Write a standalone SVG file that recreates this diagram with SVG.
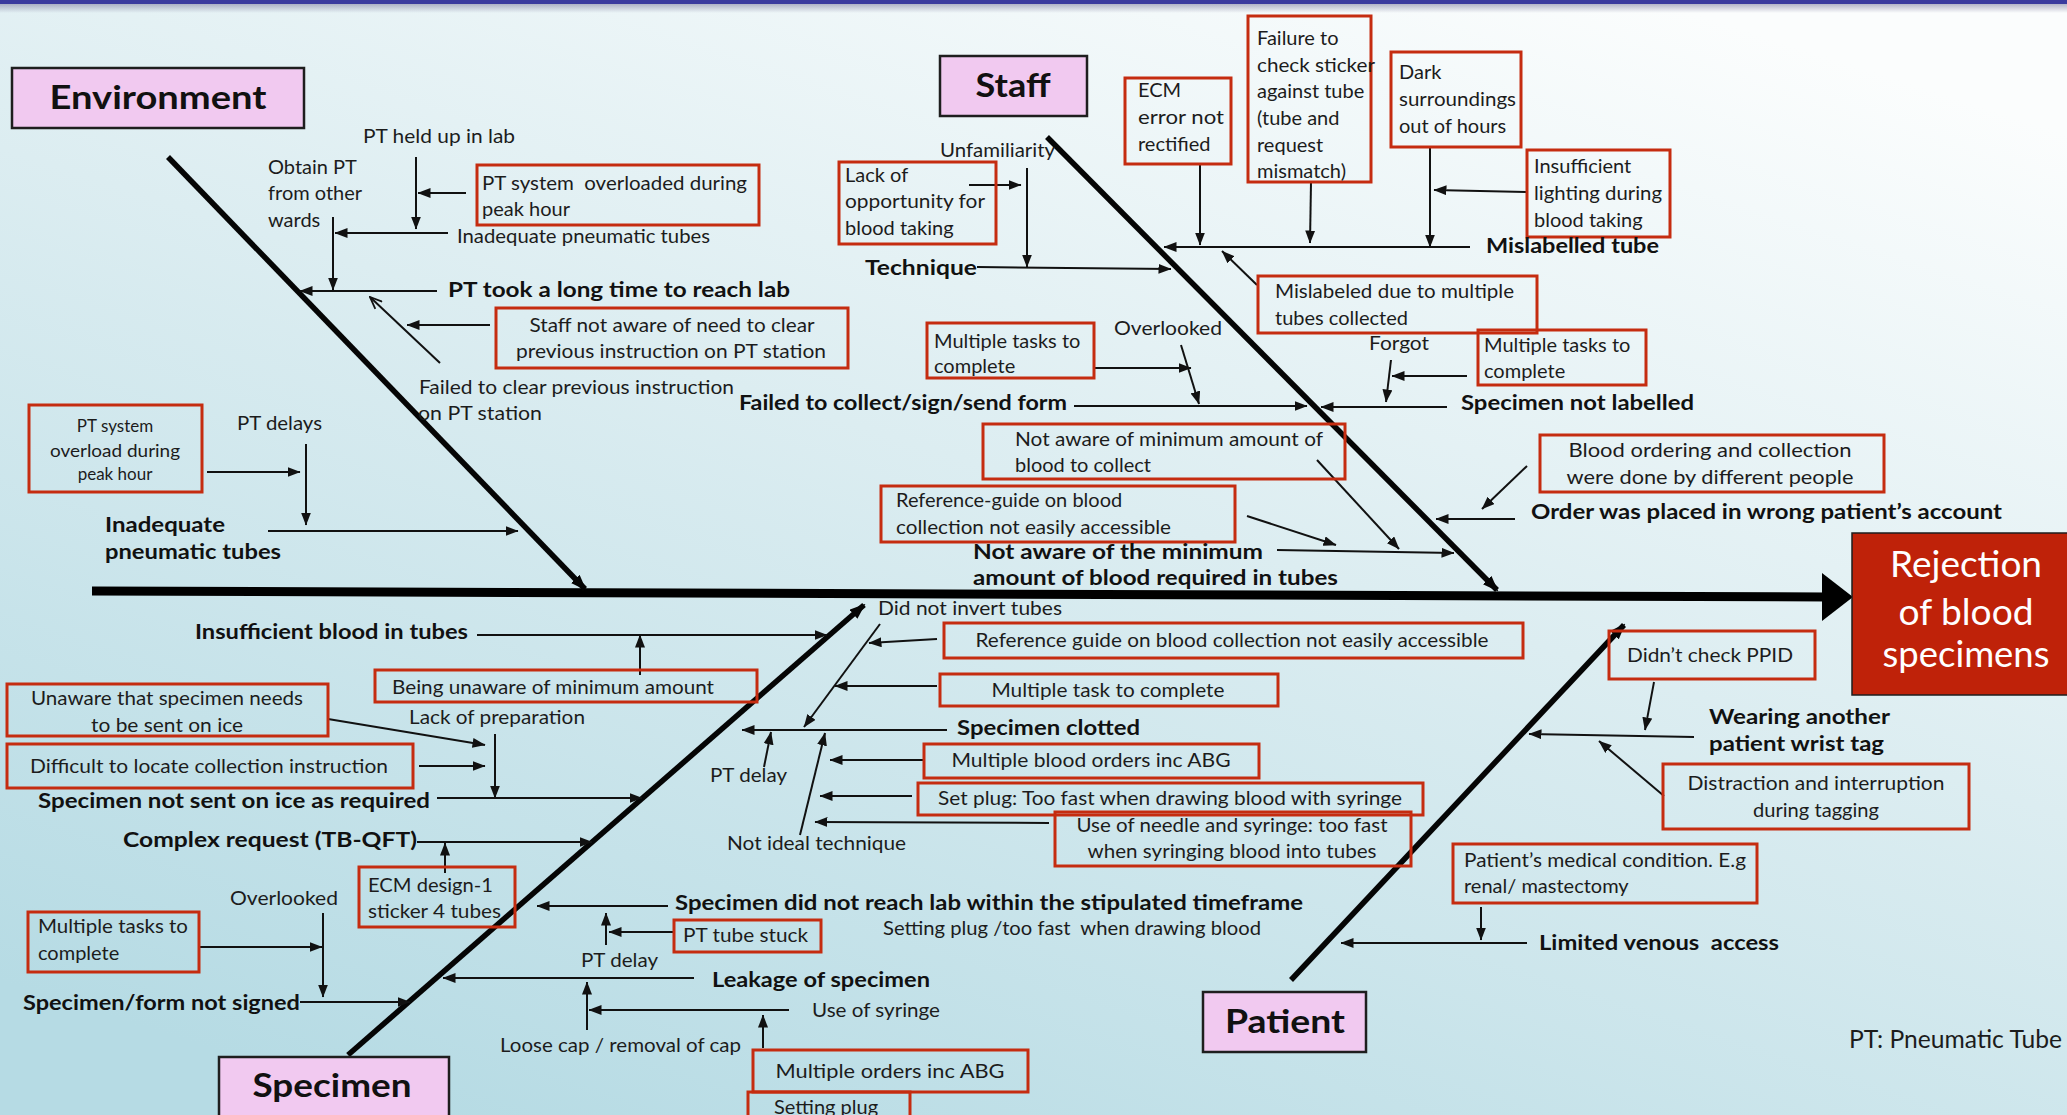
<svg xmlns="http://www.w3.org/2000/svg" width="2067" height="1115" viewBox="0 0 2067 1115">
<style>
.t{font-family:Lato,"Liberation Sans",sans-serif;font-size:20px;fill:#1c1c1c}
.s{font-size:17px}
.b{font-family:Lato,"Liberation Sans",sans-serif;font-size:20px;font-weight:700;fill:#111}
.m{text-anchor:middle}
.h{font-family:Lato,"Liberation Sans",sans-serif;font-size:32px;font-weight:700;fill:#111;text-anchor:middle}
.rb{fill:none;stroke:#c52c10;stroke-width:3}
.cat{fill:#f1c9f0;stroke:#1e1e1e;stroke-width:2.5}
.c{fill:none;stroke:#111;stroke-width:2;marker-end:url(#a)}
.bone{fill:none;stroke:#050505;stroke-width:5.5;marker-end:url(#bm)}
.w{font-family:Lato,"Liberation Sans",sans-serif;font-size:37px;fill:#fff;text-anchor:middle}
</style>
<defs>
<linearGradient id="bg" x1="0.8" y1="0" x2="0.2" y2="1">
<stop offset="0" stop-color="#fbfdfd"/>
<stop offset="0.45" stop-color="#dcedf1"/>
<stop offset="1" stop-color="#b6dbe4"/>
</linearGradient>
<linearGradient id="sh" x1="0" y1="0" x2="0" y2="1">
<stop offset="0" stop-color="#8a8aa8" stop-opacity="0.7"/>
<stop offset="1" stop-color="#8a8aa8" stop-opacity="0"/>
</linearGradient>
<marker id="a" viewBox="0 0 13 10" refX="12.5" refY="5" markerWidth="13" markerHeight="10" markerUnits="userSpaceOnUse" orient="auto"><path d="M0,0 L13,5 L0,10 z" fill="#111"/></marker>
<marker id="o" viewBox="0 0 14 12" refX="13" refY="6" markerWidth="14" markerHeight="12" markerUnits="userSpaceOnUse" orient="auto"><path d="M1,1 L13,6 L1,11" fill="none" stroke="#111" stroke-width="1.8"/></marker>
<marker id="bm" viewBox="0 0 16 12" refX="14" refY="6" markerWidth="16" markerHeight="12" markerUnits="userSpaceOnUse" orient="auto"><path d="M0,0 L16,6 L0,12 z" fill="#050505"/></marker>
</defs>
<rect width="2067" height="1115" fill="url(#bg)"/>
<rect y="3" width="2067" height="10" fill="url(#sh)"/>
<rect width="2067" height="4" fill="#3b3b9e"/>

<g id="bones">
<line x1="92" y1="591" x2="1828" y2="597" stroke="#000" stroke-width="9"/>
<polygon points="1822,573 1853,597 1822,621" fill="#000"/>
<line class="bone" x1="168" y1="157" x2="585" y2="589"/>
<line class="bone" x1="1047" y1="137" x2="1497" y2="590"/>
<line class="bone" x1="348" y1="1055" x2="864" y2="605"/>
<line class="bone" x1="1291" y1="980" x2="1624" y2="625"/>
</g>

<g id="connectors">
<line class="c" x1="416" y1="157" x2="416" y2="229"/>
<line class="c" x1="466" y1="193" x2="418" y2="193"/>
<line class="c" x1="448" y1="233" x2="335" y2="233"/>
<line class="c" x1="333" y1="217" x2="333" y2="290"/>
<line class="c" x1="437" y1="291" x2="300" y2="291"/>
<line x1="440" y1="363" x2="370" y2="297" fill="none" stroke="#111" stroke-width="2" marker-end="url(#o)"/>
<line class="c" x1="490" y1="325" x2="407" y2="325"/>
<line class="c" x1="207" y1="472" x2="300" y2="472"/>
<line class="c" x1="306" y1="444" x2="306" y2="525"/>
<line class="c" x1="268" y1="531" x2="518" y2="531"/>

<line class="c" x1="969" y1="185" x2="1021" y2="185"/>
<line class="c" x1="1027" y1="168" x2="1027" y2="267"/>
<line class="c" x1="977" y1="267" x2="1171" y2="269"/>
<line class="c" x1="1200" y1="164" x2="1200" y2="245"/>
<line class="c" x1="1311" y1="182" x2="1310" y2="243"/>
<line class="c" x1="1430" y1="147" x2="1430" y2="247"/>
<line class="c" x1="1527" y1="192" x2="1434" y2="190"/>
<line class="c" x1="1470" y1="247" x2="1164" y2="247"/>
<line class="c" x1="1257" y1="285" x2="1222" y2="251"/>
<line class="c" x1="1094" y1="368" x2="1191" y2="368"/>
<line class="c" x1="1181" y1="345" x2="1199" y2="404"/>
<line class="c" x1="1074" y1="406" x2="1307" y2="406"/>
<line class="c" x1="1467" y1="376" x2="1392" y2="376"/>
<line class="c" x1="1391" y1="360" x2="1386" y2="402"/>
<line class="c" x1="1447" y1="407" x2="1321" y2="407"/>
<line class="c" x1="1317" y1="460" x2="1399" y2="549"/>
<line class="c" x1="1247" y1="516" x2="1336" y2="545"/>
<line class="c" x1="1277" y1="550" x2="1454" y2="553"/>
<line class="c" x1="1527" y1="466" x2="1482" y2="509"/>
<line class="c" x1="1515" y1="519" x2="1436" y2="519"/>

<line class="c" x1="880" y1="624" x2="804" y2="727"/>
<line class="c" x1="937" y1="639" x2="869" y2="643"/>
<line class="c" x1="937" y1="686" x2="835" y2="686"/>
<line class="c" x1="947" y1="730" x2="742" y2="730"/>
<line class="c" x1="764" y1="767" x2="771" y2="732"/>
<line class="c" x1="800" y1="835" x2="825" y2="733"/>
<line class="c" x1="924" y1="760" x2="830" y2="760"/>
<line class="c" x1="912" y1="796" x2="820" y2="796"/>
<line class="c" x1="1049" y1="823" x2="815" y2="822"/>
<line class="c" x1="477" y1="635" x2="827" y2="635"/>
<line class="c" x1="640" y1="675" x2="640" y2="635"/>
<line class="c" x1="328" y1="719" x2="485" y2="745"/>
<line class="c" x1="419" y1="766" x2="485" y2="766"/>
<line class="c" x1="495" y1="734" x2="495" y2="798"/>
<line class="c" x1="437" y1="798" x2="642" y2="798"/>
<line class="c" x1="417" y1="842" x2="592" y2="842"/>
<line class="c" x1="445" y1="873" x2="445" y2="843"/>
<line class="c" x1="199" y1="947" x2="322" y2="947"/>
<line class="c" x1="323" y1="913" x2="323" y2="997"/>
<line class="c" x1="300" y1="1002" x2="410" y2="1002"/>
<line class="c" x1="668" y1="906" x2="537" y2="906"/>
<line class="c" x1="674" y1="932" x2="609" y2="932"/>
<line class="c" x1="606" y1="945" x2="606" y2="913"/>
<line class="c" x1="694" y1="978" x2="443" y2="978"/>
<line class="c" x1="587" y1="1030" x2="587" y2="982"/>
<line class="c" x1="789" y1="1010" x2="589" y2="1010"/>
<line class="c" x1="763" y1="1048" x2="763" y2="1015"/>

<line class="c" x1="1654" y1="682" x2="1645" y2="730"/>
<line class="c" x1="1694" y1="737" x2="1529" y2="734"/>
<line class="c" x1="1664" y1="796" x2="1599" y2="741"/>
<line class="c" x1="1481" y1="907" x2="1481" y2="940"/>
<line class="c" x1="1527" y1="943" x2="1341" y2="943"/>
</g>

<g id="cat-environment"><rect class="cat" x="12" y="68" width="292" height="60"/><text class="h" x="158" y="109" textLength="217" lengthAdjust="spacingAndGlyphs">Environment</text></g>
<g id="cat-staff"><rect class="cat" x="940" y="56" width="147" height="60"/><text class="h" x="1013" y="97" textLength="75" lengthAdjust="spacingAndGlyphs">Staff</text></g>
<g id="cat-patient"><rect class="cat" x="1203" y="992" width="163" height="60"/><text class="h" x="1285" y="1033" textLength="120" lengthAdjust="spacingAndGlyphs">Patient</text></g>
<g id="cat-specimen"><rect class="cat" x="219" y="1057" width="230" height="70"/><text class="h" x="332" y="1097" textLength="159" lengthAdjust="spacingAndGlyphs">Specimen</text></g>
<g id="effect"><rect x="1852" y="533" width="220" height="162" fill="#bf2209" stroke="#1e1e1e" stroke-width="1.5"/>
<text class="w" x="1966" y="577" textLength="152" lengthAdjust="spacingAndGlyphs">Rejection</text>
<text class="w" x="1966" y="625" textLength="135" lengthAdjust="spacingAndGlyphs">of blood</text>
<text class="w" x="1966" y="667" textLength="167" lengthAdjust="spacingAndGlyphs">specimens</text></g>

<g id="env-held-up"><text class="t" x="363" y="143" textLength="152" lengthAdjust="spacingAndGlyphs">PT held up in lab</text></g>
<g id="env-obtain"><text class="t" x="268" y="174">Obtain PT</text><text class="t" x="268" y="200">from other</text><text class="t" x="268" y="227">wards</text></g>
<g id="env-overloaded"><rect class="rb" x="477" y="165" width="282" height="60"/><text class="t" x="482" y="190" textLength="265" lengthAdjust="spacingAndGlyphs">PT system&#160; overloaded during</text><text class="t" x="482" y="216">peak hour</text></g>
<g id="env-inadequate-pt"><text class="t" x="457" y="243" textLength="253" lengthAdjust="spacingAndGlyphs">Inadequate pneumatic tubes</text></g>
<g id="env-long-time"><text class="b" x="448" y="297" textLength="342" lengthAdjust="spacingAndGlyphs">PT took a long time to reach lab</text></g>
<g id="env-staff-not-aware"><rect class="rb" x="496" y="308" width="352" height="60"/><text class="t m" x="672" y="332" textLength="285" lengthAdjust="spacingAndGlyphs">Staff not aware of need to clear</text><text class="t m" x="671" y="358" textLength="310" lengthAdjust="spacingAndGlyphs">previous instruction on PT station</text></g>
<g id="env-failed-clear"><text class="t" x="419" y="394" textLength="315" lengthAdjust="spacingAndGlyphs">Failed to clear previous instruction</text><text class="t" x="418" y="420" textLength="124" lengthAdjust="spacingAndGlyphs">on PT station</text></g>
<g id="env-overload-box"><rect class="rb" x="29" y="405" width="173" height="87"/><text class="t s m" x="115" y="432">PT system</text><text class="t s m" x="115" y="457" textLength="130" lengthAdjust="spacingAndGlyphs">overload during</text><text class="t s m" x="115" y="480">peak hour</text></g>
<g id="env-pt-delays"><text class="t" x="237" y="430" textLength="85" lengthAdjust="spacingAndGlyphs">PT delays</text></g>
<g id="env-inadequate"><text class="b" x="105" y="532" textLength="120" lengthAdjust="spacingAndGlyphs">Inadequate</text><text class="b" x="105" y="559" textLength="176" lengthAdjust="spacingAndGlyphs">pneumatic tubes</text></g>

<g id="staff-unfamiliarity"><text class="t" x="940" y="157" textLength="115" lengthAdjust="spacingAndGlyphs">Unfamiliarity</text></g>
<g id="staff-lack"><rect class="rb" x="839" y="162" width="157" height="82"/><text class="t" x="845" y="182">Lack of</text><text class="t" x="845" y="208" textLength="140" lengthAdjust="spacingAndGlyphs">opportunity for</text><text class="t" x="845" y="235">blood taking</text></g>
<g id="staff-technique"><text class="b" x="865" y="275" textLength="112" lengthAdjust="spacingAndGlyphs">Technique</text></g>
<g id="staff-ecm"><rect class="rb" x="1125" y="78" width="106" height="86"/><text class="t" x="1138" y="97">ECM</text><text class="t" x="1138" y="124" textLength="86" lengthAdjust="spacingAndGlyphs">error not</text><text class="t" x="1138" y="151">rectified</text></g>
<g id="staff-failure"><rect class="rb" x="1248" y="16" width="123" height="166"/><text class="t" x="1257" y="45">Failure to</text><text class="t" x="1257" y="72" textLength="118" lengthAdjust="spacingAndGlyphs">check sticker</text><text class="t" x="1257" y="98">against tube</text><text class="t" x="1257" y="125">(tube and</text><text class="t" x="1257" y="152">request</text><text class="t" x="1257" y="178">mismatch)</text></g>
<g id="staff-dark"><rect class="rb" x="1391" y="52" width="130" height="95"/><text class="t" x="1399" y="79">Dark</text><text class="t" x="1399" y="106" textLength="117" lengthAdjust="spacingAndGlyphs">surroundings</text><text class="t" x="1399" y="133">out of hours</text></g>
<g id="staff-lighting"><rect class="rb" x="1527" y="150" width="143" height="87"/><text class="t" x="1534" y="173">Insufficient</text><text class="t" x="1534" y="200" textLength="128" lengthAdjust="spacingAndGlyphs">lighting during</text><text class="t" x="1534" y="227">blood taking</text></g>
<g id="staff-mislabelled"><text class="b" x="1486" y="253" textLength="173" lengthAdjust="spacingAndGlyphs">Mislabelled tube</text></g>
<g id="staff-multiple-tubes"><rect class="rb" x="1258" y="276" width="279" height="57"/><text class="t" x="1275" y="298" textLength="239" lengthAdjust="spacingAndGlyphs">Mislabeled due to multiple</text><text class="t" x="1275" y="325">tubes collected</text></g>
<g id="staff-tasks-1"><rect class="rb" x="927" y="323" width="167" height="55"/><text class="t" x="934" y="348">Multiple tasks to</text><text class="t" x="934" y="373">complete</text></g>
<g id="staff-overlooked"><text class="t" x="1114" y="335" textLength="108" lengthAdjust="spacingAndGlyphs">Overlooked</text></g>
<g id="staff-failed-form"><text class="b" x="739" y="410" textLength="328" lengthAdjust="spacingAndGlyphs">Failed to collect/sign/send form</text></g>
<g id="staff-forgot"><text class="t" x="1369" y="350" textLength="60" lengthAdjust="spacingAndGlyphs">Forgot</text></g>
<g id="staff-tasks-2"><rect class="rb" x="1478" y="330" width="168" height="55"/><text class="t" x="1484" y="352">Multiple tasks to</text><text class="t" x="1484" y="378">complete</text></g>
<g id="staff-not-labelled"><text class="b" x="1461" y="410" textLength="233" lengthAdjust="spacingAndGlyphs">Specimen not labelled</text></g>
<g id="staff-min-amount"><rect class="rb" x="983" y="424" width="362" height="55"/><text class="t" x="1015" y="446" textLength="308" lengthAdjust="spacingAndGlyphs">Not aware of minimum amount of</text><text class="t" x="1015" y="472">blood to collect</text></g>
<g id="staff-ref-guide"><rect class="rb" x="881" y="486" width="354" height="56"/><text class="t" x="896" y="507">Reference-guide on blood</text><text class="t" x="896" y="534" textLength="275" lengthAdjust="spacingAndGlyphs">collection not easily accessible</text></g>
<g id="staff-not-aware"><text class="b" x="973" y="559" textLength="290" lengthAdjust="spacingAndGlyphs">Not aware of the minimum</text><text class="b" x="973" y="585" textLength="365" lengthAdjust="spacingAndGlyphs">amount of blood required in tubes</text></g>
<g id="staff-ordering"><rect class="rb" x="1540" y="435" width="344" height="57"/><text class="t m" x="1710" y="457" textLength="283" lengthAdjust="spacingAndGlyphs">Blood ordering and collection</text><text class="t m" x="1710" y="484" textLength="287" lengthAdjust="spacingAndGlyphs">were done by different people</text></g>
<g id="staff-wrong-account"><text class="b" x="1531" y="519" textLength="471" lengthAdjust="spacingAndGlyphs">Order was placed in wrong patient’s account</text></g>

<g id="spec-invert"><text class="t" x="878" y="615" textLength="184" lengthAdjust="spacingAndGlyphs">Did not invert tubes</text></g>
<g id="spec-ref-guide"><rect class="rb" x="944" y="623" width="579" height="35"/><text class="t m" x="1232" y="647" textLength="513" lengthAdjust="spacingAndGlyphs">Reference guide on blood collection not easily accessible</text></g>
<g id="spec-task"><rect class="rb" x="940" y="674" width="338" height="32"/><text class="t m" x="1108" y="697" textLength="233" lengthAdjust="spacingAndGlyphs">Multiple task to complete</text></g>
<g id="spec-clotted"><text class="b" x="957" y="735" textLength="183" lengthAdjust="spacingAndGlyphs">Specimen clotted</text></g>
<g id="spec-pt-delay-1"><text class="t" x="710" y="782" textLength="77" lengthAdjust="spacingAndGlyphs">PT delay</text></g>
<g id="spec-technique"><text class="t" x="727" y="850" textLength="179" lengthAdjust="spacingAndGlyphs">Not ideal technique</text></g>
<g id="spec-blood-orders"><rect class="rb" x="924" y="744" width="335" height="34"/><text class="t m" x="1091" y="767" textLength="279" lengthAdjust="spacingAndGlyphs">Multiple blood orders inc ABG</text></g>
<g id="spec-set-plug"><rect class="rb" x="918" y="783" width="505" height="32"/><text class="t m" x="1170" y="805" textLength="464" lengthAdjust="spacingAndGlyphs">Set plug: Too fast when drawing blood with syringe</text></g>
<g id="spec-needle"><rect class="rb" x="1055" y="812" width="356" height="54"/><text class="t m" x="1232" y="832" textLength="311" lengthAdjust="spacingAndGlyphs">Use of needle and syringe: too fast</text><text class="t m" x="1232" y="858" textLength="289" lengthAdjust="spacingAndGlyphs">when syringing blood into tubes</text></g>
<g id="spec-insufficient"><text class="b" x="195" y="639" textLength="273" lengthAdjust="spacingAndGlyphs">Insufficient blood in tubes</text></g>
<g id="spec-unaware-min"><rect class="rb" x="375" y="670" width="382" height="32"/><text class="t m" x="553" y="694" textLength="322" lengthAdjust="spacingAndGlyphs">Being unaware of minimum amount</text></g>
<g id="spec-preparation"><text class="t" x="409" y="724" textLength="176" lengthAdjust="spacingAndGlyphs">Lack of preparation</text></g>
<g id="spec-ice-unaware"><rect class="rb" x="7" y="684" width="321" height="52"/><text class="t m" x="167" y="705" textLength="272" lengthAdjust="spacingAndGlyphs">Unaware that specimen needs</text><text class="t m" x="167" y="732" textLength="152" lengthAdjust="spacingAndGlyphs">to be sent on ice</text></g>
<g id="spec-difficult"><rect class="rb" x="7" y="744" width="406" height="44"/><text class="t m" x="209" y="773" textLength="358" lengthAdjust="spacingAndGlyphs">Difficult to locate collection instruction</text></g>
<g id="spec-not-on-ice"><text class="b" x="38" y="808" textLength="392" lengthAdjust="spacingAndGlyphs">Specimen not sent on ice as required</text></g>
<g id="spec-complex"><text class="b" x="123" y="847" textLength="294" lengthAdjust="spacingAndGlyphs">Complex request (TB-QFT)</text></g>
<g id="spec-ecm-design"><rect class="rb" x="359" y="867" width="156" height="60"/><text class="t" x="368" y="892" textLength="125" lengthAdjust="spacingAndGlyphs">ECM design-1</text><text class="t" x="368" y="918" textLength="133" lengthAdjust="spacingAndGlyphs">sticker 4 tubes</text></g>
<g id="spec-overlooked"><text class="t" x="230" y="905" textLength="108" lengthAdjust="spacingAndGlyphs">Overlooked</text></g>
<g id="spec-tasks"><rect class="rb" x="28" y="912" width="171" height="60"/><text class="t" x="38" y="933" textLength="150" lengthAdjust="spacingAndGlyphs">Multiple tasks to</text><text class="t" x="38" y="960">complete</text></g>
<g id="spec-not-signed"><text class="b" x="23" y="1010" textLength="277" lengthAdjust="spacingAndGlyphs">Specimen/form not signed</text></g>
<g id="spec-timeframe"><text class="b" x="675" y="910" textLength="628" lengthAdjust="spacingAndGlyphs">Specimen did not reach lab within the stipulated timeframe</text></g>
<g id="spec-tube-stuck"><rect class="rb" x="674" y="920" width="147" height="32"/><text class="t" x="683" y="942" textLength="125" lengthAdjust="spacingAndGlyphs">PT tube stuck</text></g>
<g id="spec-pt-delay-2"><text class="t" x="581" y="967" textLength="77" lengthAdjust="spacingAndGlyphs">PT delay</text></g>
<g id="spec-setting-plug-fast"><text class="t" x="883" y="935" textLength="378" lengthAdjust="spacingAndGlyphs">Setting plug /too fast&#160; when drawing blood</text></g>
<g id="spec-leakage"><text class="b" x="712" y="987" textLength="218" lengthAdjust="spacingAndGlyphs">Leakage of specimen</text></g>
<g id="spec-syringe"><text class="t" x="812" y="1017" textLength="128" lengthAdjust="spacingAndGlyphs">Use of syringe</text></g>
<g id="spec-loose-cap"><text class="t" x="500" y="1052" textLength="241" lengthAdjust="spacingAndGlyphs">Loose cap / removal of cap</text></g>
<g id="spec-orders"><rect class="rb" x="753" y="1050" width="275" height="42"/><text class="t m" x="890" y="1078" textLength="229" lengthAdjust="spacingAndGlyphs">Multiple orders inc ABG</text></g>
<g id="spec-setting-plug"><rect class="rb" x="748" y="1092" width="162" height="40"/><text class="t" x="774" y="1114">Setting plug</text></g>

<g id="pat-ppid"><rect class="rb" x="1609" y="631" width="206" height="48"/><text class="t m" x="1710" y="662" textLength="166" lengthAdjust="spacingAndGlyphs">Didn’t check PPID</text></g>
<g id="pat-wrist-tag"><text class="b" x="1709" y="724" textLength="181" lengthAdjust="spacingAndGlyphs">Wearing another</text><text class="b" x="1709" y="751" textLength="175" lengthAdjust="spacingAndGlyphs">patient wrist tag</text></g>
<g id="pat-distraction"><rect class="rb" x="1663" y="764" width="306" height="65"/><text class="t m" x="1816" y="790" textLength="257" lengthAdjust="spacingAndGlyphs">Distraction and interruption</text><text class="t m" x="1816" y="817" textLength="126" lengthAdjust="spacingAndGlyphs">during tagging</text></g>
<g id="pat-condition"><rect class="rb" x="1453" y="844" width="304" height="59"/><text class="t" x="1464" y="867" textLength="282" lengthAdjust="spacingAndGlyphs">Patient’s medical condition. E.g</text><text class="t" x="1464" y="893">renal/ mastectomy</text></g>
<g id="pat-venous"><text class="b" x="1539" y="950" textLength="240" lengthAdjust="spacingAndGlyphs">Limited venous&#160; access</text></g>
<g id="legend"><text class="t" x="1849" y="1048" style="font-size:25px" textLength="213" lengthAdjust="spacingAndGlyphs">PT: Pneumatic Tube</text></g>
</svg>
